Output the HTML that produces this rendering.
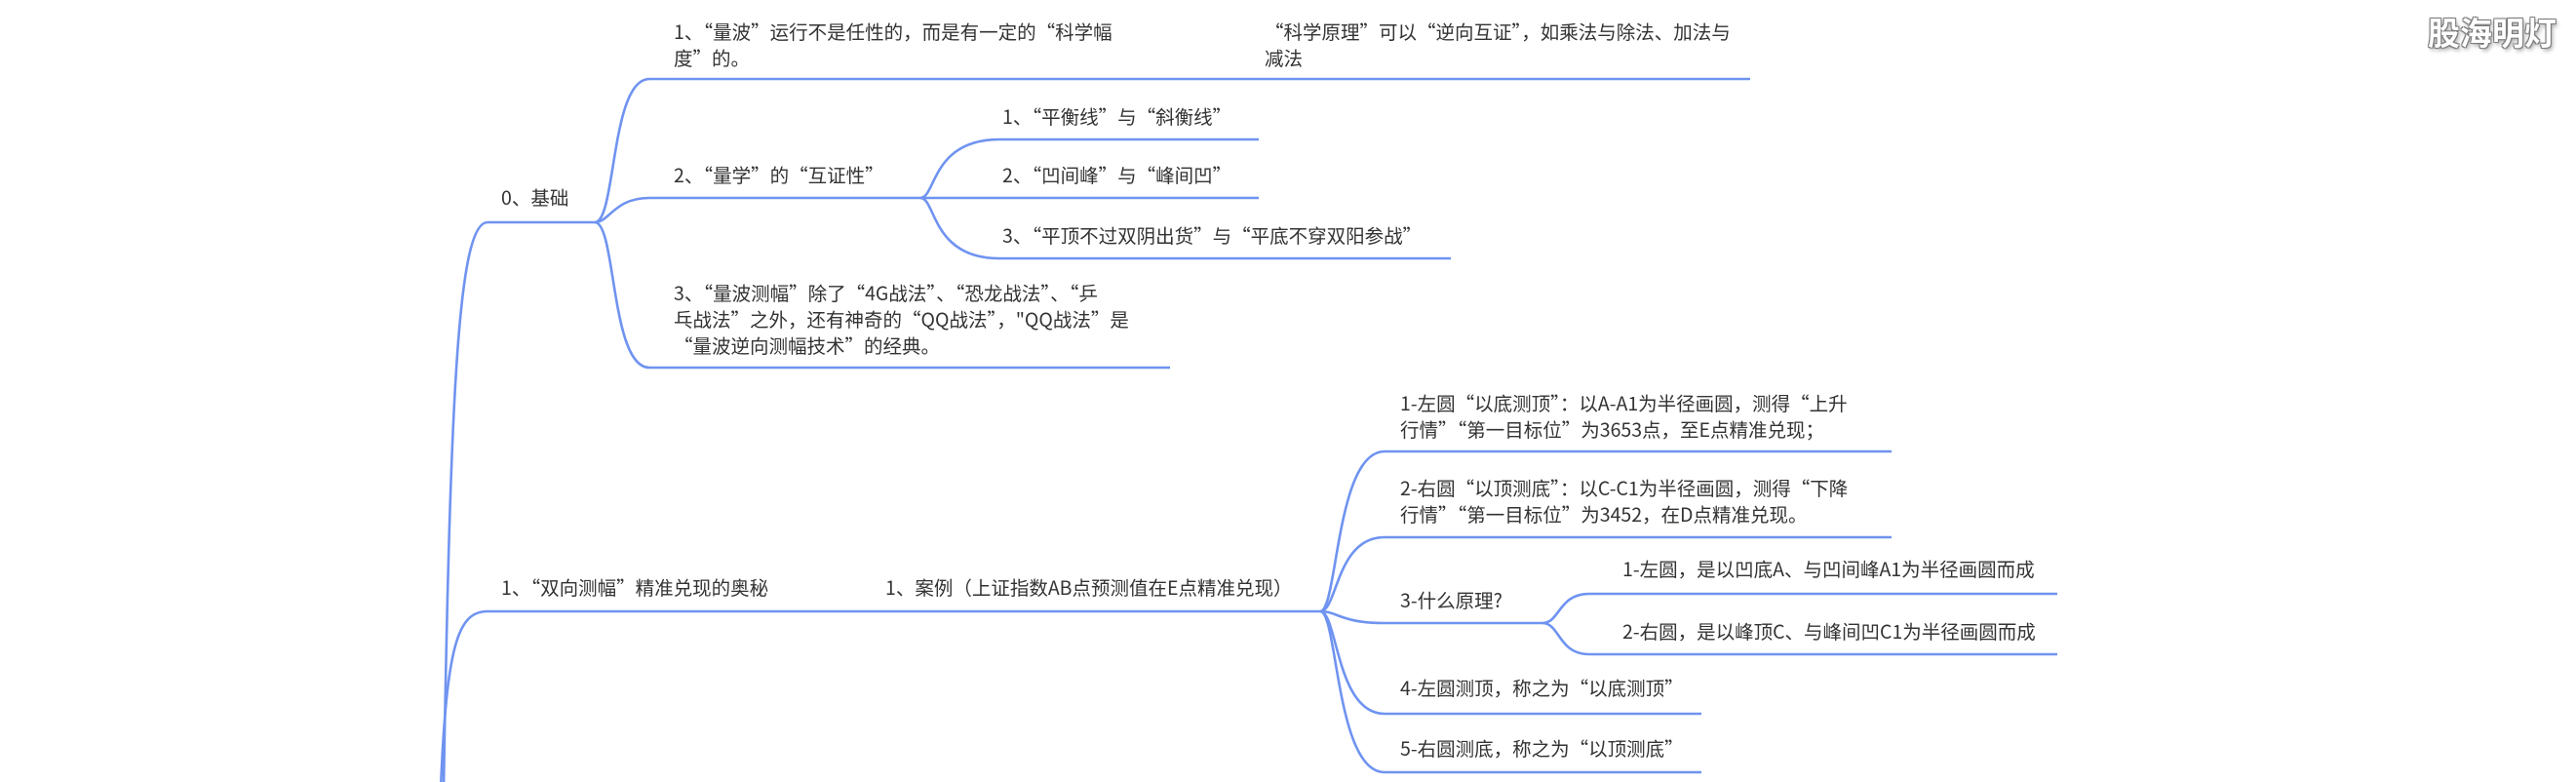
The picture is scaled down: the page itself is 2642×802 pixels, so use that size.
<!DOCTYPE html>
<html><head><meta charset="utf-8"><style>
html,body{margin:0;padding:0;background:#fff;}
body{width:2642px;height:802px;position:relative;overflow:hidden;font-family:"Noto Sans CJK SC","Liberation Sans",sans-serif;}
.t{position:absolute;font-size:19.5px;line-height:27px;color:#333;white-space:nowrap;}
.logo{position:absolute;left:2490px;top:12px;font-size:33px;line-height:40px;white-space:nowrap;font-weight:bold;color:#fff;font-family:"Noto Sans CJK SC",sans-serif;text-shadow:0 0 2px #666,1px 1px 0 #888,-1px -1px 0 #888,1px -1px 0 #888,-1px 1px 0 #888,2px 3px 4px #aaa;}
</style></head><body>
<svg width="2642" height="802" style="position:absolute;left:0;top:0" fill="none" stroke="#6f93f0" stroke-width="2.6">
<path d="M455,810 C462,400 470,228 500,228 L610,228"/>
<path d="M452,810 C458,660 470,627 500,627 L1354,627"/>
<path d="M610,228 C632,228 626,81 666,81 L1795,81"/>
<path d="M610,228 C625,228 630,203 666,203 L944,203"/>
<path d="M610,228 C632,228 626,377 666,377 L1200,377"/>
<path d="M944,203 C960,203 955,143 1025,143 L1291,143"/>
<path d="M944,203 L1291,203"/>
<path d="M944,203 C960,203 955,265 1025,265 L1488,265"/>
<path d="M1354,627 C1372,627 1370,463 1420,463 L1940,463"/>
<path d="M1354,627 C1372,627 1370,551 1420,551 L1940,551"/>
<path d="M1354,627 C1372,627 1375,639 1420,639 L1582,639"/>
<path d="M1354,627 C1372,627 1370,732 1420,732 L1745,732"/>
<path d="M1354,627 C1372,627 1370,792 1420,792 L1745,792"/>
<path d="M1582,639 C1600,639 1598,609 1630,609 L2110,609"/>
<path d="M1582,639 C1600,639 1598,671 1630,671 L2110,671"/>
</svg>
<div class="t" style="left:514px;top:188px">0、基础</div>
<div class="t" style="left:691px;top:18px">1、“量波”运行不是任性的，而是有一定的“科学幅<br>度”的。</div>
<div class="t" style="left:1297px;top:18px">“科学原理”可以“逆向互证”，如乘法与除法、加法与<br>减法</div>
<div class="t" style="left:691px;top:165px">2、“量学”的“互证性”</div>
<div class="t" style="left:1028px;top:105px">1、“平衡线”与“斜衡线”</div>
<div class="t" style="left:1028px;top:165px">2、“凹间峰”与“峰间凹”</div>
<div class="t" style="left:1028px;top:227px">3、“平顶不过双阴出货”与“平底不穿双阳参战”</div>
<div class="t" style="left:691px;top:286px">3、“量波测幅”除了“4G战法”、“恐龙战法”、“乒<br>乓战法”之外，还有神奇的“QQ战法”，"QQ战法”是<br>“量波逆向测幅技术”的经典。</div>
<div class="t" style="left:514px;top:588px">1、“双向测幅”精准兑现的奥秘</div>
<div class="t" style="left:908px;top:588px">1、案例（上证指数AB点预测值在E点精准兑现）</div>
<div class="t" style="left:1436px;top:399px">1-左圆“以底测顶”：以A-A1为半径画圆，测得“上升<br>行情”“第一目标位”为3653点，至E点精准兑现；</div>
<div class="t" style="left:1436px;top:486px">2-右圆“以顶测底”：以C-C1为半径画圆，测得“下降<br>行情”“第一目标位”为3452，在D点精准兑现。</div>
<div class="t" style="left:1436px;top:601px">3-什么原理?</div>
<div class="t" style="left:1664px;top:569px">1-左圆，是以凹底A、与凹间峰A1为半径画圆而成</div>
<div class="t" style="left:1664px;top:633px">2-右圆，是以峰顶C、与峰间凹C1为半径画圆而成</div>
<div class="t" style="left:1436px;top:691px">4-左圆测顶，称之为“以底测顶”</div>
<div class="t" style="left:1436px;top:753px">5-右圆测底，称之为“以顶测底”</div>
<div class="logo">股海明灯</div>
</body></html>
